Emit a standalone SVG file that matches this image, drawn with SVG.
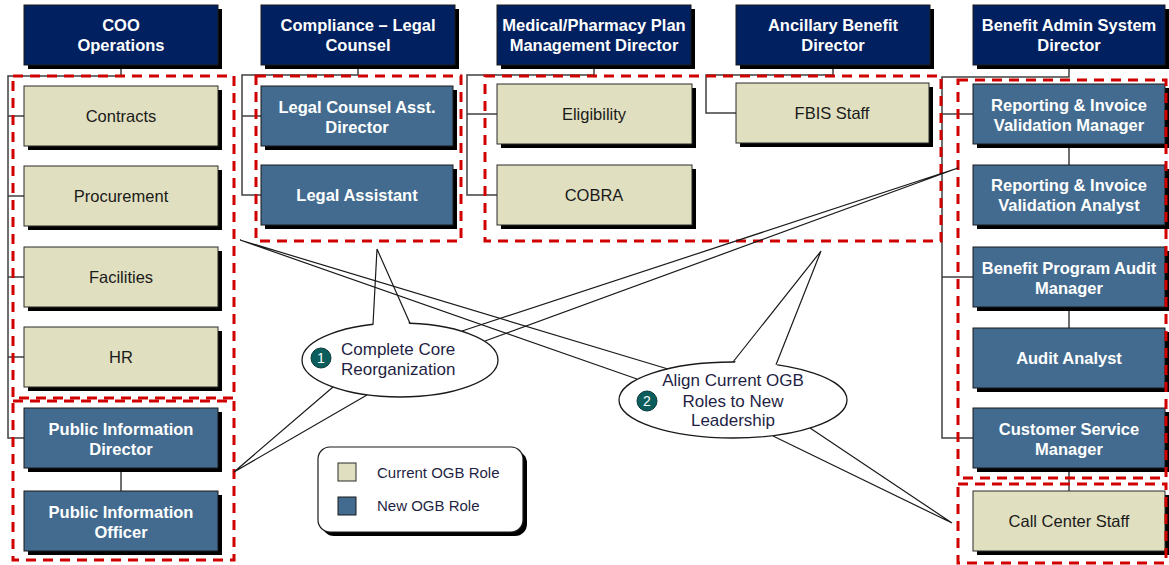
<svg xmlns="http://www.w3.org/2000/svg" width="1169" height="565" viewBox="0 0 1169 565">
<style>
.sh{fill:#000}
.hdr{fill:#002060;stroke:#1a1a1a;stroke-width:1}
.cur{fill:#E0DFBF;stroke:#2a2a2a;stroke-width:1}
.new{fill:#426B8F;stroke:#1a1a1a;stroke-width:1}
.tw{font-family:"Liberation Sans",Arial,sans-serif;font-size:16.5px;font-weight:bold;fill:#fff;text-anchor:middle}
.tc{font-family:"Liberation Sans",Arial,sans-serif;font-size:16.5px;fill:#1a1a1a;text-anchor:middle}
.conn{fill:none;stroke:#404040;stroke-width:1.5}
.grp{fill:none;stroke:#D00000;stroke-width:3;stroke-dasharray:10 7}
.wedge{fill:none;stroke:#1a1a1a;stroke-width:1.2}
.bal{fill:#fff;stroke:#1a1a1a;stroke-width:1.3}
.ct{font-family:"Liberation Sans",Arial,sans-serif;font-size:17px;fill:#1F1F45}
.num{fill:#0C5E5C;stroke:#0a3a3a;stroke-width:1}
.nt{font-family:"Liberation Sans",Arial,sans-serif;font-size:14px;fill:#fff;text-anchor:middle}
.lt{font-family:"Liberation Sans",Arial,sans-serif;font-size:15px;fill:#1F1F45}
</style>

<!-- connectors -->
<g id="connectors">
<path class="conn" d="M121 65 V76 H8 V438 H24 M8 116 H24 M8 196 H24 M8 277 H24 M8 357 H24 M121 468 V491"/>
<path class="conn" d="M358 65 V75 H242 V195 H261 M242 116 H261"/>
<path class="conn" d="M594 65 V75 H467 V195 H497 M467 114 H497"/>
<path class="conn" d="M833 65 V75 H706 V113 H736"/>
<path class="conn" d="M1069 65 V77 H942 V438 H973 M942 114 H973 M942 277 H973 M1069 144 V165 M1069 307 V328 M1069 468 V491"/>
</g>

<!-- headers -->
<g id="coo"><rect class="sh" x="28" y="9" width="194" height="60"/><rect class="hdr" x="24" y="5" width="194" height="60"/><text class="tw" x="121" y="31">COO</text><text class="tw" x="121" y="51">Operations</text></g>
<g id="compliance"><rect class="sh" x="265" y="9" width="194" height="60"/><rect class="hdr" x="261" y="5" width="194" height="60"/><text class="tw" x="358" y="31">Compliance – Legal</text><text class="tw" x="358" y="51">Counsel</text></g>
<g id="medical"><rect class="sh" x="501" y="9" width="194" height="60"/><rect class="hdr" x="497" y="5" width="194" height="60"/><text class="tw" x="594" y="31">Medical/Pharmacy Plan</text><text class="tw" x="594" y="51">Management Director</text></g>
<g id="ancillary"><rect class="sh" x="740" y="9" width="194" height="60"/><rect class="hdr" x="736" y="5" width="194" height="60"/><text class="tw" x="833" y="31">Ancillary Benefit</text><text class="tw" x="833" y="51">Director</text></g>
<g id="bas"><rect class="sh" x="977" y="9" width="192" height="60"/><rect class="hdr" x="973" y="5" width="192" height="60"/><text class="tw" x="1069" y="31">Benefit Admin  System</text><text class="tw" x="1069" y="51">Director</text></g>

<!-- COO column -->
<g id="contracts"><rect class="sh" x="28" y="90" width="194" height="60"/><rect class="cur" x="24" y="86" width="194" height="60"/><text class="tc" x="121" y="122">Contracts</text></g>
<g id="procurement"><rect class="sh" x="28" y="170" width="194" height="60"/><rect class="cur" x="24" y="166" width="194" height="60"/><text class="tc" x="121" y="202">Procurement</text></g>
<g id="facilities"><rect class="sh" x="28" y="251" width="194" height="60"/><rect class="cur" x="24" y="247" width="194" height="60"/><text class="tc" x="121" y="283">Facilities</text></g>
<g id="hr"><rect class="sh" x="28" y="331" width="194" height="60"/><rect class="cur" x="24" y="327" width="194" height="60"/><text class="tc" x="121" y="363">HR</text></g>
<g id="pid"><rect class="sh" x="28" y="412" width="194" height="60"/><rect class="new" x="24" y="408" width="194" height="60"/><text class="tw" x="121" y="435">Public Information</text><text class="tw" x="121" y="455">Director</text></g>
<g id="pio"><rect class="sh" x="28" y="495" width="194" height="60"/><rect class="new" x="24" y="491" width="194" height="60"/><text class="tw" x="121" y="518">Public Information</text><text class="tw" x="121" y="538">Officer</text></g>

<!-- Compliance column -->
<g id="lcad"><rect class="sh" x="265" y="90" width="192" height="60"/><rect class="new" x="261" y="86" width="192" height="60"/><text class="tw" x="357" y="113">Legal Counsel Asst.</text><text class="tw" x="357" y="133">Director</text></g>
<g id="la"><rect class="sh" x="265" y="169" width="192" height="60"/><rect class="new" x="261" y="165" width="192" height="60"/><text class="tw" x="357" y="201">Legal Assistant</text></g>

<!-- Medical column -->
<g id="eligibility"><rect class="sh" x="501" y="88" width="195" height="60"/><rect class="cur" x="497" y="84" width="195" height="60"/><text class="tc" x="594" y="120">Eligibility</text></g>
<g id="cobra"><rect class="sh" x="501" y="169" width="195" height="60"/><rect class="cur" x="497" y="165" width="195" height="60"/><text class="tc" x="594" y="201">COBRA</text></g>

<!-- Ancillary -->
<g id="fbis"><rect class="sh" x="740" y="87" width="193" height="60"/><rect class="cur" x="736" y="83" width="193" height="60"/><text class="tc" x="832" y="119">FBIS Staff</text></g>

<!-- BAS column -->
<g id="rivm"><rect class="sh" x="977" y="88" width="192" height="60"/><rect class="new" x="973" y="84" width="192" height="60"/><text class="tw" x="1069" y="111">Reporting &amp; Invoice</text><text class="tw" x="1069" y="131">Validation Manager</text></g>
<g id="riva"><rect class="sh" x="977" y="169" width="192" height="60"/><rect class="new" x="973" y="165" width="192" height="60"/><text class="tw" x="1069" y="191">Reporting &amp; Invoice</text><text class="tw" x="1069" y="211">Validation Analyst</text></g>
<g id="bpam"><rect class="sh" x="977" y="251" width="192" height="60"/><rect class="new" x="973" y="247" width="192" height="60"/><text class="tw" x="1069" y="274">Benefit Program Audit</text><text class="tw" x="1069" y="294">Manager</text></g>
<g id="aa"><rect class="sh" x="977" y="332" width="192" height="60"/><rect class="new" x="973" y="328" width="192" height="60"/><text class="tw" x="1069" y="364">Audit Analyst</text></g>
<g id="csm"><rect class="sh" x="977" y="412" width="192" height="60"/><rect class="new" x="973" y="408" width="192" height="60"/><text class="tw" x="1069" y="435">Customer Service</text><text class="tw" x="1069" y="455">Manager</text></g>
<g id="ccs"><rect class="sh" x="977" y="495" width="192" height="60"/><rect class="cur" x="973" y="491" width="192" height="60"/><text class="tc" x="1069" y="527">Call Center Staff</text></g>

<!-- red dashed groups -->
<g id="groups">
<rect class="grp" x="13" y="76" width="221" height="322"/>
<rect class="grp" x="13" y="401" width="221" height="159"/>
<rect class="grp" x="256" y="76" width="205" height="165"/>
<rect class="grp" x="485" y="76" width="456" height="165"/>
<rect class="grp" x="958" y="80" width="208" height="398"/>
<rect class="grp" x="958" y="484" width="208" height="79"/>
</g>

<!-- callout 1 -->
<g id="callout1">
<path class="wedge" d="M462 331 L958 168 L485 341 M333 387 L234 472 L367 395"/>
<ellipse class="bal" cx="400" cy="360" rx="98" ry="37"/>
<polygon points="373,327 377,249 410,326" fill="#fff"/>
<polyline class="wedge" points="373,324.5 377,249 410,323.3"/>
<circle class="num" cx="321" cy="358" r="10"/>
<text class="nt" x="321" y="363">1</text>
<text class="ct" x="341" y="355">Complete Core</text>
<text class="ct" x="341" y="375">Reorganization</text>
</g>

<!-- callout 2 -->
<g id="callout2">
<path class="wedge" d="M668 369 L240 240 L637 379 M773 436 L952 523 L810 428"/>
<ellipse class="bal" cx="733" cy="400" rx="114" ry="38"/>
<polygon points="733,365 821,251 776,368" fill="#fff"/>
<polyline class="wedge" points="733,362 821,251 776,364.8"/>
<circle class="num" cx="647" cy="401" r="10"/>
<text class="nt" x="647" y="406">2</text>
<text class="ct" x="733" y="386" text-anchor="middle">Align Current OGB</text>
<text class="ct" x="733" y="407" text-anchor="middle">Roles to New</text>
<text class="ct" x="733" y="426" text-anchor="middle">Leadership</text>
</g>

<!-- legend -->
<g id="legend">
<rect x="322" y="451" width="205" height="85" rx="12" fill="#000"/>
<rect x="318" y="447" width="205" height="85" rx="12" fill="#fff" stroke="#1a1a1a" stroke-width="1.2"/>
<rect x="338" y="463" width="18" height="18" class="cur"/>
<rect x="338" y="497" width="18" height="18" class="new"/>
<text class="lt" x="377" y="478">Current OGB Role</text>
<text class="lt" x="377" y="511">New OGB Role</text>
</g>
</svg>
